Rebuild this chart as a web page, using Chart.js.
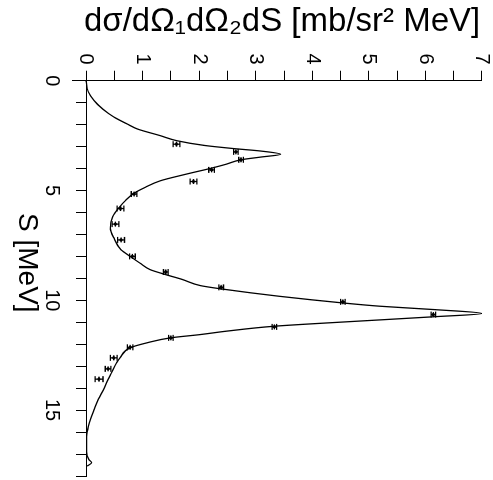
<!DOCTYPE html>
<html>
<head>
<meta charset="utf-8">
<script src="https://cdn.jsdelivr.net/npm/chart.js@4/dist/chart.umd.min.js"></script>
<style>
  html, body { margin: 0; padding: 0; background: #fff; overflow: hidden; }
  /* the plot is laid out with S along the horizontal and then turned a quarter clockwise */
  #wrap {
    position: absolute; left: 0; top: 0;
    width: 480px; height: 493px;
    transform-origin: 0 0;
    transform: translate(493px, 0) rotate(90deg);
  }
  canvas { display: block; }
</style>
</head>
<body>
<div id="wrap"><canvas id="chart" width="480" height="493"></canvas></div>
<script>
// calculated cross section (solid curve)
const curveS = [0, 0.5, 0.9, 1.3, 1.65, 2.0, 2.2, 2.5, 2.73, 2.95, 3.1, 3.2, 3.35, 3.48, 3.6, 3.8, 3.98, 4.25, 4.56,
  4.85, 5.12, 5.45, 5.73, 6.2, 6.71, 7.2, 7.7, 8.0, 8.3, 8.6, 8.8, 9.05, 9.33, 9.48, 9.82, 10.12, 10.27, 10.42, 10.6,
  10.75, 10.98, 11.18, 11.4, 11.56, 11.71, 11.94, 12.16, 12.62, 12.85, 13.3, 13.6, 14.06, 14.5, 15.0, 15.4, 16.0,
  16.5, 16.9, 17.25, 17.39, 17.55];
const curveC = [0, 0.04, 0.14, 0.30, 0.49, 0.75, 0.91, 1.31, 1.60, 2.10, 2.65, 3.08, 3.44, 3.08, 2.74, 2.48, 2.22, 1.78, 1.31,
  1.05, 0.85, 0.70, 0.60, 0.47, 0.43, 0.50, 0.62, 0.78, 0.95, 1.13, 1.37, 1.70, 2.02, 2.39, 3.43, 4.54, 5.20, 6.14, 7.00,
  6.14, 4.60, 3.33, 2.50, 2.02, 1.49, 1.07, 0.78, 0.60, 0.54, 0.45, 0.39, 0.31, 0.22, 0.14, 0.08, 0.02,
  0.01, 0.01, 0.05, 0.10, 0.02];

// measured points with their uncertainties
const dataS   = [2.89, 3.24, 3.60, 4.06, 4.59, 5.16, 5.82, 6.53, 7.25, 8.00, 8.71, 9.41, 10.07, 10.65, 11.21, 11.71, 12.14, 12.62, 13.12, 13.59];
const dataC   = [1.60, 2.65, 2.74, 2.22, 1.90, 0.85, 0.61, 0.52, 0.62, 0.82, 1.41, 2.39, 4.54, 6.14, 3.33, 1.50, 0.78, 0.49, 0.39, 0.23];
const dataErr = [0.06, 0.04, 0.04, 0.05, 0.06, 0.05, 0.06, 0.06, 0.06, 0.05, 0.04, 0.04, 0.04, 0.04, 0.04, 0.04, 0.05, 0.06, 0.05, 0.07];

// axis ticks
const sTicks = [0, 1, 2, 3, 4, 5, 6, 7, 8, 9, 10, 11, 12, 13, 14, 15, 16, 17, 18];
const sLabels = [0, 5, 10, 15];
const cTicks = [0, 0.5, 1, 1.5, 2, 2.5, 3, 3.5, 4, 4.5, 5, 5.5, 6, 6.5, 7];
const cLabels = [0, 1, 2, 3, 4, 5, 6, 7];

const FONT = "'Liberation Sans', Arial, Helvetica, sans-serif";

// vertical error bars with caps for the measured points
const errorBars = {
  id: 'errorBars',
  afterDatasetsDraw(chart) {
    const { ctx, scales: { x, y } } = chart;
    ctx.save();
    ctx.strokeStyle = '#000';
    ctx.lineWidth = 1.3;
    dataS.forEach((s, i) => {
      const px = x.getPixelForValue(s);
      const lo = y.getPixelForValue(dataC[i] - dataErr[i]);
      const hi = y.getPixelForValue(dataC[i] + dataErr[i]);
      const py = y.getPixelForValue(dataC[i]);
      ctx.beginPath();
      ctx.moveTo(px, lo); ctx.lineTo(px, hi);
      ctx.moveTo(px - 3, lo); ctx.lineTo(px + 3, lo);
      ctx.moveTo(px - 3, hi); ctx.lineTo(px + 3, hi);
      ctx.moveTo(px - 2.5, py); ctx.lineTo(px + 2.5, py);
      ctx.stroke();
    });
    ctx.restore();
  }
};

new Chart(document.getElementById('chart'), {
  type: 'scatter',
  data: {
    datasets: [
      {
        data: curveS.map((s, i) => ({ x: s, y: curveC[i] })),
        showLine: true,
        borderColor: '#000',
        borderWidth: 1.3,
        pointRadius: 0,
        cubicInterpolationMode: 'monotone',
        fill: false
      },
      {
        data: dataS.map((s, i) => ({ x: s, y: dataC[i] })),
        showLine: false,
        pointRadius: 1.6,
        pointBorderWidth: 0,
        pointBackgroundColor: '#000'
      }
    ]
  },
  options: {
    responsive: false,
    animation: false,
    events: [],
    devicePixelRatio: 1,
    layout: { padding: { top: 0, right: 3, bottom: 73, left: 1 } },
    plugins: { legend: { display: false }, tooltip: { enabled: false } },
    scales: {
      x: {
        type: 'linear',
        min: 0,
        max: 18,
        position: { y: 0 },
        afterBuildTicks: (scale) => { scale.ticks = sTicks.map(v => ({ value: v })); },
        ticks: {
          autoSkip: false,
          maxRotation: 0,
          minRotation: 0,
          padding: 0,
          color: '#000',
          font: { family: FONT, size: 20, lineHeight: 2.4 },
          callback: (v) => (sLabels.includes(v) ? String(v) : '')
        },
        grid: { drawOnChartArea: false, drawTicks: true, tickLength: 10, color: '#000', lineWidth: 1 },
        border: { display: true, color: '#000', width: 1 },
        title: {
          display: true,
          text: 'S [MeV]\u00A0\u00A0\u00A0\u00A0',
          color: '#000',
          font: { family: FONT, size: 28 },
          padding: { top: -16, bottom: 0 }
        }
      },
      y: {
        type: 'linear',
        min: -0.23,
        max: 7,
        position: 'left',
        afterBuildTicks: (scale) => { scale.ticks = cTicks.map(v => ({ value: v })); },
        ticks: {
          autoSkip: false,
          padding: 6,
          color: '#000',
          font: { family: FONT, size: 20, lineHeight: 0.5 },
          callback: (v) => (cLabels.includes(v) ? String(v) : '')
        },
        grid: { drawOnChartArea: false, drawTicks: true, tickLength: 10, color: '#000', lineWidth: 1 },
        border: { display: true, color: '#000', width: 1 },
        title: {
          display: true,
          text: '\u00A0d\u03C3/d\u03A9\u2081d\u03A9\u2082dS [mb/sr\u00B2 MeV]',
          color: '#000',
          font: { family: FONT, size: 33 },
          padding: { top: 1, bottom: 6 }
        }
      }
    }
  },
  plugins: [errorBars]
});
</script>
</body>
</html>
